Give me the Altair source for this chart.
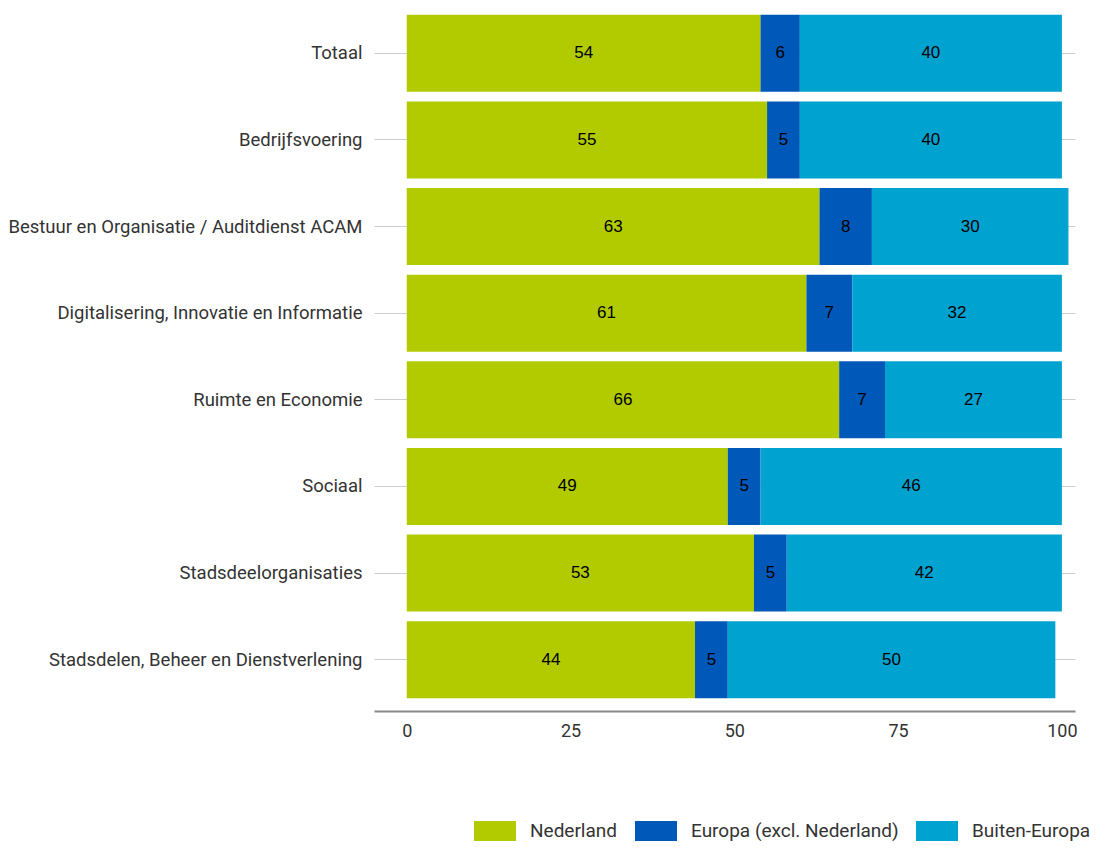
import altair as alt
import pandas as pd

categories = [
    "Totaal",
    "Bedrijfsvoering",
    "Bestuur en Organisatie / Auditdienst ACAM",
    "Digitalisering, Innovatie en Informatie",
    "Ruimte en Economie",
    "Sociaal",
    "Stadsdeelorganisaties",
    "Stadsdelen, Beheer en Dienstverlening",
]
series = ["Nederland", "Europa (excl. Nederland)", "Buiten-Europa"]
nederland = [54, 55, 63, 61, 66, 49, 53, 44]
europa = [6, 5, 8, 7, 7, 5, 5, 5]
buiten = [40, 40, 30, 32, 27, 46, 42, 50]
colors = ["#b1cb00", "#0058b8", "#00a2d0"]
x_ticks = [0, 25, 50, 75, 100]

rows = []
for i, c in enumerate(categories):
    for j, (s, vals) in enumerate(zip(series, [nederland, europa, buiten])):
        rows.append({"cat": c, "series": s, "order": j, "value": vals[i]})
df = pd.DataFrame(rows)

FONT = "Roboto"

base = alt.Chart(df).transform_stack(
    stack="value", groupby=["cat"], as_=["x0", "x1"], sort=[alt.SortField("order")]
).transform_calculate(mid="(datum.x0 + datum.x1) / 2")

y_enc = alt.Y(
    "cat:N",
    sort=categories,
    title=None,
    scale=alt.Scale(paddingInner=0.11, paddingOuter=0.055),
    axis=alt.Axis(
        domain=False, ticks=False, grid=True, bandPosition=0.5,
        gridColor="#cccccc", gridWidth=1,
        labelFont=FONT, labelFontSize=18.5, labelColor="#333333",
        labelPadding=12, labelLimit=400,
    ),
)

x_scale = alt.Scale(domain=[-5, 102], nice=False, zero=False)

bars = base.mark_bar().encode(
    x=alt.X(
        "x0:Q", scale=x_scale, title=None,
        axis=alt.Axis(
            values=x_ticks, grid=False, ticks=False, domainColor="#888888",
            domainWidth=2, offset=8, labelFont=FONT, labelFontSize=18,
            labelColor="#333333", labelPadding=11,
        ),
    ),
    x2="x1:Q",
    y=y_enc,
    color=alt.Color(
        "series:N",
        scale=alt.Scale(domain=series, range=colors),
        sort=series,
        legend=alt.Legend(
            title=None, orient="none", direction="horizontal",
            legendX=100, legendY=800, padding=0,
            symbolType="M-1,-0.476H1V0.476H-1Z", symbolSize=1764,
            symbolStrokeWidth=0, labelFont=FONT, labelFontSize=19,
            labelColor="#333333", labelOffset=14, columnPadding=17,
            labelLimit=400,
        ),
    ),
    order=alt.Order("order:Q"),
)

texts = base.mark_text(font="Liberation Sans", fontSize=17, color="#000000").encode(
    x=alt.X("mid:Q", scale=x_scale),
    y=alt.Y("cat:N", sort=categories),
    text=alt.Text("value:Q"),
)

chart = (
    alt.layer(bars, texts)
    .properties(
        width=701, height=693,
        autosize=alt.AutoSizeParams(type="none"),
        padding={"left": 366, "top": 2, "right": 26, "bottom": 141},
    )
    .configure_view(stroke=None)
)

chart.save("out.html", embed_options={"renderer": "svg", "actions": False})
